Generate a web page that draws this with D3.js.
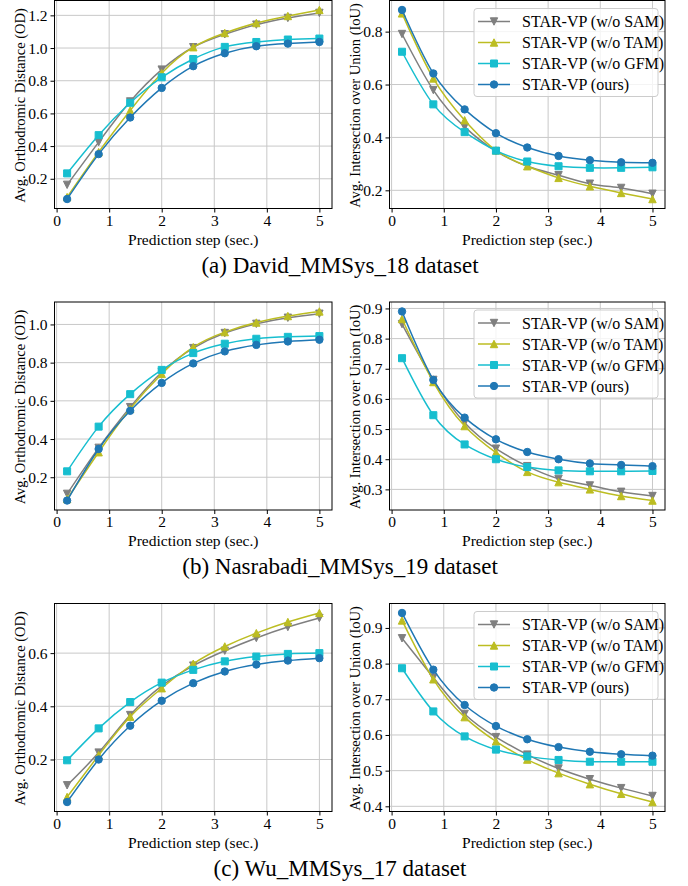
<!DOCTYPE html>
<html>
<head>
<meta charset="utf-8">
<script src="https://cdn.jsdelivr.net/npm/d3@7"></script>
<style>
  body { margin: 0; background: #fff; }
  svg text { font-family: "Liberation Serif", "Times New Roman", serif; }
</style>
</head>
<body>
<div id="chart"></div>
<script>
// x values (prediction step in seconds)
var steps = [0.2, 0.8, 1.4, 2.0, 2.6, 3.2, 3.8, 4.4, 5.0];
var seriesNames = ["STAR-VP (w/o SAM)", "STAR-VP (w/o TAM)", "STAR-VP (w/o GFM)", "STAR-VP (ours)"];

// (a) David_MMSys_18
var davidOD_noSAM = [0.163, 0.424, 0.673, 0.868, 1.005, 1.084, 1.143, 1.184, 1.215];
var davidOD_noTAM = [0.088, 0.363, 0.618, 0.846, 1.005, 1.092, 1.153, 1.196, 1.233];
var davidOD_noGFM = [0.233, 0.467, 0.665, 0.821, 0.933, 1.007, 1.037, 1.052, 1.058];
var davidOD_ours  = [0.076, 0.351, 0.575, 0.756, 0.889, 0.968, 1.011, 1.027, 1.037];
var davidIoU_noSAM = [0.791, 0.579, 0.440, 0.348, 0.291, 0.257, 0.225, 0.209, 0.187];
var davidIoU_noTAM = [0.869, 0.623, 0.465, 0.351, 0.291, 0.247, 0.215, 0.190, 0.167];
var davidIoU_noGFM = [0.724, 0.525, 0.420, 0.350, 0.309, 0.291, 0.285, 0.285, 0.287];
var davidIoU_ours  = [0.882, 0.642, 0.506, 0.416, 0.362, 0.330, 0.314, 0.306, 0.304];

// (b) Nasrabadi_MMSys_19
var nasOD_noSAM = [0.113, 0.354, 0.567, 0.750, 0.876, 0.955, 1.003, 1.035, 1.056];
var nasOD_noTAM = [0.086, 0.331, 0.558, 0.741, 0.881, 0.960, 1.010, 1.044, 1.068];
var nasOD_noGFM = [0.231, 0.465, 0.635, 0.762, 0.850, 0.899, 0.925, 0.935, 0.939];
var nasOD_ours  = [0.078, 0.348, 0.548, 0.694, 0.796, 0.859, 0.893, 0.911, 0.920];
var nasIoU_noSAM = [0.848, 0.663, 0.521, 0.435, 0.377, 0.335, 0.313, 0.292, 0.278];
var nasIoU_noTAM = [0.865, 0.656, 0.510, 0.422, 0.358, 0.324, 0.300, 0.278, 0.263];
var nasIoU_noGFM = [0.735, 0.546, 0.449, 0.400, 0.374, 0.363, 0.360, 0.360, 0.361];
var nasIoU_ours  = [0.890, 0.663, 0.538, 0.466, 0.424, 0.400, 0.386, 0.381, 0.377];

// (c) Wu_MMSys_17
var wuOD_noSAM = [0.103, 0.226, 0.367, 0.477, 0.553, 0.609, 0.657, 0.698, 0.732];
var wuOD_noTAM = [0.059, 0.216, 0.361, 0.468, 0.560, 0.625, 0.675, 0.717, 0.751];
var wuOD_noGFM = [0.197, 0.317, 0.416, 0.489, 0.537, 0.569, 0.587, 0.597, 0.600];
var wuOD_ours  = [0.040, 0.200, 0.327, 0.421, 0.487, 0.531, 0.557, 0.572, 0.581];
var wuIoU_noSAM = [0.871, 0.761, 0.659, 0.594, 0.545, 0.506, 0.476, 0.451, 0.429];
var wuIoU_noTAM = [0.921, 0.756, 0.650, 0.582, 0.531, 0.493, 0.462, 0.435, 0.412];
var wuIoU_noGFM = [0.787, 0.666, 0.596, 0.559, 0.540, 0.530, 0.525, 0.525, 0.525];
var wuIoU_ours  = [0.942, 0.783, 0.684, 0.625, 0.588, 0.566, 0.553, 0.546, 0.542];

// tick values
var xTicks = [0, 1, 2, 3, 4, 5];
var davidODTicks = [0.2, 0.4, 0.6, 0.8, 1.0, 1.2];
var davidIoUTicks = [0.2, 0.4, 0.6, 0.8];
var nasODTicks = [0.2, 0.4, 0.6, 0.8, 1.0];
var nasIoUTicks = [0.3, 0.4, 0.5, 0.6, 0.7, 0.8, 0.9];
var wuODTicks = [0.2, 0.4, 0.6];
var wuIoUTicks = [0.4, 0.5, 0.6, 0.7, 0.8, 0.9];

var captions = ["(a) David_MMSys_18 dataset", "(b) Nasrabadi_MMSys_19 dataset", "(c) Wu_MMSys_17 dataset"];
var odLabel = "Avg. Orthodromic Distance (OD)";
var iouLabel = "Avg. Intersection over Union (IoU)";
var xLabel = "Prediction step (sec.)";

var colors = ["#7f7f7f", "#bcbd22", "#17becf", "#1f77b4"];
var markers = ["tridown", "triup", "square", "circle"];

var width = 688, height = 886;
var fs = "15.5px";
var svg = d3.select("#chart").append("svg")
  .attr("width", width)
  .attr("height", height);

svg.append("rect").attr("width", width).attr("height", height).attr("fill", "#fff");

var ms = 7.4; // marker size

function markerPath(type) {
  var h = ms / 2;
  if (type == "circle") return d3.symbol().type(d3.symbolCircle).size(Math.PI * h * h)();
  if (type == "square") { var s = h * 0.95; return "M" + -s + "," + -s + "H" + s + "V" + s + "H" + -s + "Z"; }
  if (type == "triup") return "M0," + -h + "L" + h + "," + h + "L" + -h + "," + h + "Z";
  return "M0," + h + "L" + h + "," + -h + "L" + -h + "," + -h + "Z";
}

function drawPanel(p) {
  var g = svg.append("g");
  var x = d3.scaleLinear().domain([-0.04, 5.24]).range([p.left, p.right]);
  var all = d3.merge(p.series);
  var lo = d3.min(all), hi = d3.max(all), pad = (hi - lo) * 0.05;
  var y = d3.scaleLinear().domain([lo - pad, hi + pad]).range([p.bottom, p.top]);

  // grid
  g.selectAll(".gx").data(xTicks).enter().append("line")
    .attr("x1", function(d) { return x(d); }).attr("x2", function(d) { return x(d); })
    .attr("y1", p.top).attr("y2", p.bottom)
    .attr("stroke", "#c8c8c8").attr("stroke-width", 1);
  g.selectAll(".gy").data(p.ticks).enter().append("line")
    .attr("x1", p.left).attr("x2", p.right)
    .attr("y1", function(d) { return y(d); }).attr("y2", function(d) { return y(d); })
    .attr("stroke", "#c8c8c8").attr("stroke-width", 1);

  // axes
  g.append("g")
    .attr("transform", "translate(0," + p.bottom + ")")
    .call(d3.axisBottom(x).tickValues(xTicks).tickSize(4).tickPadding(2).tickFormat(d3.format("d")))
    .call(function(a) { a.select(".domain").remove(); a.selectAll("text").attr("font-size", fs).attr("fill", "#000").style("font-family", "Liberation Serif"); });
  g.append("g")
    .attr("transform", "translate(" + p.left + ",0)")
    .call(d3.axisLeft(y).tickValues(p.ticks).tickSize(4).tickPadding(3).tickFormat(d3.format(".1f")))
    .call(function(a) { a.select(".domain").remove(); a.selectAll("text").attr("font-size", fs).attr("fill", "#000").style("font-family", "Liberation Serif"); });

  // lines + markers
  var line = d3.line()
    .x(function(d, i) { return x(steps[i]); })
    .y(function(d) { return y(d); })
    .curve(d3.curveNatural);

  p.series.forEach(function(s, k) {
    g.append("path")
      .attr("d", line(s))
      .attr("fill", "none")
      .attr("stroke", colors[k])
      .attr("stroke-width", 1.5);
    g.selectAll(".m" + k).data(s).enter().append("path")
      .attr("d", markerPath(markers[k]))
      .attr("transform", function(d, i) { return "translate(" + x(steps[i]) + "," + y(d) + ")"; })
      .attr("fill", colors[k])
      .attr("stroke", colors[k])
      .attr("stroke-width", 1);
  });

  // frame
  g.append("rect")
    .attr("x", p.left).attr("y", p.top)
    .attr("width", p.right - p.left).attr("height", p.bottom - p.top)
    .attr("fill", "none").attr("stroke", "#000").attr("stroke-width", 1);

  // axis labels
  g.append("text")
    .attr("x", (p.left + p.right) / 2).attr("y", p.bottom + 36)
    .attr("text-anchor", "middle").attr("font-size", fs)
    .text(xLabel);
  g.append("text")
    .attr("transform", "translate(" + (p.left - 30) + "," + ((p.top + p.bottom) / 2 + 1) + ") rotate(-90)")
    .attr("text-anchor", "middle").attr("font-size", "14.5px")
    .text(p.ylabel);

  // legend
  if (p.legend) {
    var lg = g.append("g").attr("transform", "translate(" + (p.right - 191) + "," + (p.top + 8) + ")");
    lg.append("rect")
      .attr("width", 184).attr("height", 88).attr("rx", 3)
      .attr("fill", "#fff").attr("fill-opacity", 0.8)
      .attr("stroke", "#cccccc").attr("stroke-width", 1);
    seriesNames.forEach(function(name, k) {
      var yy = 13 + k * 21;
      lg.append("line").attr("x1", 4).attr("x2", 36).attr("y1", yy).attr("y2", yy)
        .attr("stroke", colors[k]).attr("stroke-width", 1.5);
      lg.append("path").attr("d", markerPath(markers[k]))
        .attr("transform", "translate(20," + yy + ")")
        .attr("fill", colors[k]).attr("stroke", colors[k]);
      lg.append("text").attr("x", 48).attr("y", yy).attr("dy", "0.35em")
        .attr("font-size", "16px").text(name);
    });
  }
}

var rows = [
  { top: 0.5, od: [davidOD_noSAM, davidOD_noTAM, davidOD_noGFM, davidOD_ours], odTicks: davidODTicks,
    iou: [davidIoU_noSAM, davidIoU_noTAM, davidIoU_noGFM, davidIoU_ours], iouTicks: davidIoUTicks },
  { top: 302, od: [nasOD_noSAM, nasOD_noTAM, nasOD_noGFM, nasOD_ours], odTicks: nasODTicks,
    iou: [nasIoU_noSAM, nasIoU_noTAM, nasIoU_noGFM, nasIoU_ours], iouTicks: nasIoUTicks },
  { top: 603.5, od: [wuOD_noSAM, wuOD_noTAM, wuOD_noGFM, wuOD_ours], odTicks: wuODTicks,
    iou: [wuIoU_noSAM, wuIoU_noTAM, wuIoU_noGFM, wuIoU_ours], iouTicks: wuIoUTicks }
];

rows.forEach(function(r, i) {
  var bottom = r.top + 208;
  drawPanel({ left: 54.5, right: 332, top: r.top, bottom: bottom, series: r.od, ticks: r.odTicks, ylabel: odLabel, legend: false });
  drawPanel({ left: 389.5, right: 665, top: r.top, bottom: bottom, series: r.iou, ticks: r.iouTicks, ylabel: iouLabel, legend: true });
  svg.append("text")
    .attr("x", 340).attr("y", bottom + 64)
    .attr("text-anchor", "middle").attr("font-size", "23px")
    .text(captions[i]);
});
</script>
</body>
</html>
